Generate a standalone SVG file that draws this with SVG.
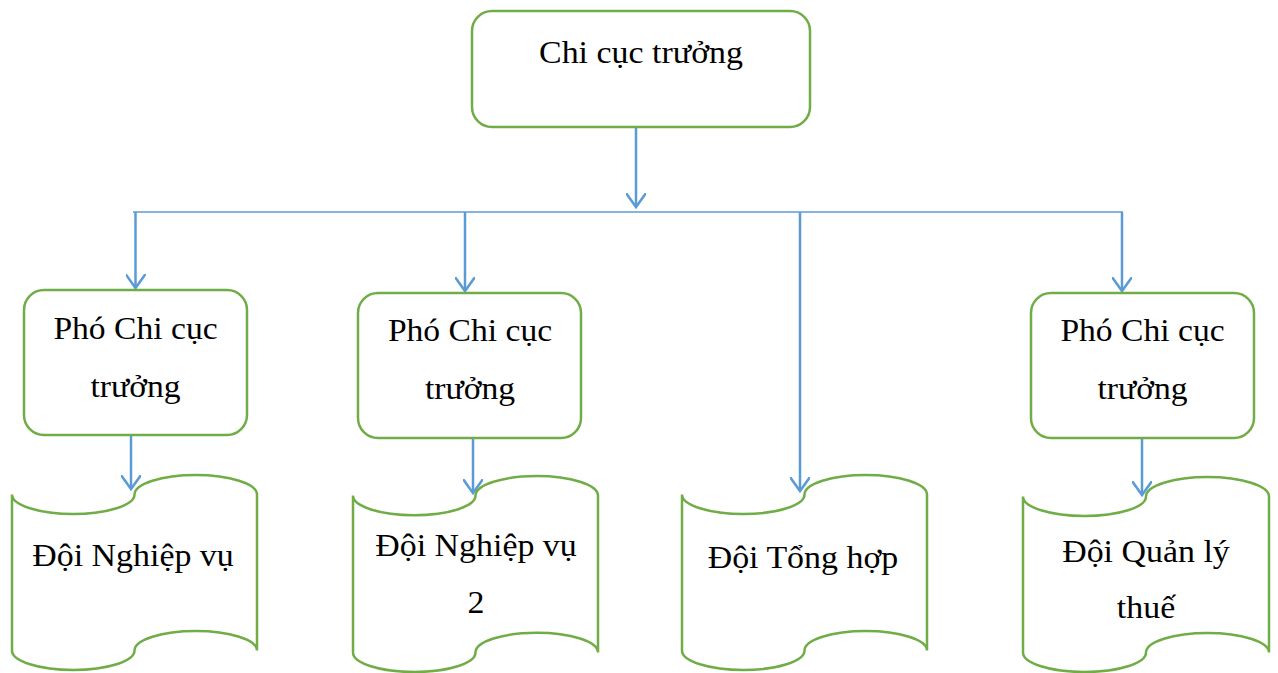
<svg xmlns="http://www.w3.org/2000/svg" width="1278" height="673" viewBox="0 0 1278 673">
<defs>
<style>
.box{fill:#fff;stroke:#70AD47;stroke-width:2.5}
.t{font-family:"Liberation Serif","Times New Roman",serif;font-size:32px;fill:#000;text-anchor:middle}
.c{fill:none;stroke:#5B9BD5;stroke-width:2.5}
.h{fill:none;stroke:#5B9BD5;stroke-width:1.5}
</style>
<marker id="ah" markerUnits="userSpaceOnUse" markerWidth="24" markerHeight="20" refX="14" refY="10" orient="auto" viewBox="0 0 24 20">
<path d="M0,0 L14,10 L0,20" fill="none" stroke="#5B9BD5" stroke-width="2.5"/>
</marker>
</defs>
<rect width="1278" height="673" fill="#fff"/>
<g id="connectors">
<line class="h" x1="133" y1="212" x2="1123" y2="212"/>
<line class="c" x1="636" y1="127" x2="636" y2="207" marker-end="url(#ah)"/>
<line class="c" x1="135.5" y1="212" x2="135.5" y2="288" marker-end="url(#ah)"/>
<line class="c" x1="465" y1="212" x2="465" y2="291" marker-end="url(#ah)"/>
<line class="c" x1="800" y1="212" x2="800" y2="491" marker-end="url(#ah)"/>
<line class="c" x1="1122" y1="212" x2="1122" y2="291" marker-end="url(#ah)"/>
<line class="c" x1="131" y1="435" x2="131" y2="489" marker-end="url(#ah)"/>
<line class="c" x1="473" y1="438" x2="473" y2="493" marker-end="url(#ah)"/>
<line class="c" x1="1142" y1="438" x2="1142" y2="495" marker-end="url(#ah)"/>
</g>
<g id="chi-cuc-truong">
<rect class="box" x="472" y="11" width="338" height="116" rx="20"/>
<text class="t" transform="translate(641,63) scale(1.06,1)">Chi cục trưởng</text>
</g>
<g id="pho-1">
<rect class="box" x="24" y="290" width="223" height="145" rx="20"/>
<text class="t" transform="translate(135.5,339) scale(1.05,1)">Phó Chi cục</text>
<text class="t" transform="translate(135.5,397) scale(1.05,1)">trưởng</text>
</g>
<g id="pho-2">
<rect class="box" x="358" y="293" width="223" height="145" rx="20"/>
<text class="t" transform="translate(470,341) scale(1.05,1)">Phó Chi cục</text>
<text class="t" transform="translate(470,399) scale(1.05,1)">trưởng</text>
</g>
<g id="pho-4">
<rect class="box" x="1031" y="293" width="223" height="145" rx="20"/>
<text class="t" transform="translate(1142.5,341) scale(1.05,1)">Phó Chi cục</text>
<text class="t" transform="translate(1142.5,399) scale(1.05,1)">trưởng</text>
</g>
<g id="doi-nghiep-vu">
<path class="box" d="M12,494.5 A61.25,19.5 0 0 0 134.5,494.5 A61.25,19.5 0 0 1 257,494.5 L257,650.5 A61.25,19.5 0 0 0 134.5,650.5 A61.25,19.5 0 0 1 12,650.5 Z"/>
<text class="t" transform="translate(133,566) scale(1.06,1)">Đội Nghiệp vụ</text>
</g>
<g id="doi-nghiep-vu-2">
<path class="box" d="M353,495.6 A61.25,19.6 0 0 0 475.5,495.6 A61.25,19.6 0 0 1 598,495.6 L598,652.4 A61.25,19.6 0 0 0 475.5,652.4 A61.25,19.6 0 0 1 353,652.4 Z"/>
<text class="t" transform="translate(476,556) scale(1.06,1)">Đội Nghiệp vụ</text>
<text class="t" transform="translate(476,613) scale(1.06,1)">2</text>
</g>
<g id="doi-tong-hop">
<path class="box" d="M682,494.5 A61.25,19.5 0 0 0 804.5,494.5 A61.25,19.5 0 0 1 927,494.5 L927,650.5 A61.25,19.5 0 0 0 804.5,650.5 A61.25,19.5 0 0 1 682,650.5 Z"/>
<text class="t" transform="translate(803,568) scale(1.06,1)">Đội Tổng hợp</text>
</g>
<g id="doi-quan-ly-thue">
<path class="box" d="M1023,496.5 A61.5,19.5 0 0 0 1146,496.5 A61.5,19.5 0 0 1 1269,496.5 L1269,652.5 A61.5,19.5 0 0 0 1146,652.5 A61.5,19.5 0 0 1 1023,652.5 Z"/>
<text class="t" transform="translate(1146,562) scale(1.06,1)">Đội Quản lý</text>
<text class="t" transform="translate(1146,618) scale(1.06,1)">thuế</text>
</g>
</svg>
